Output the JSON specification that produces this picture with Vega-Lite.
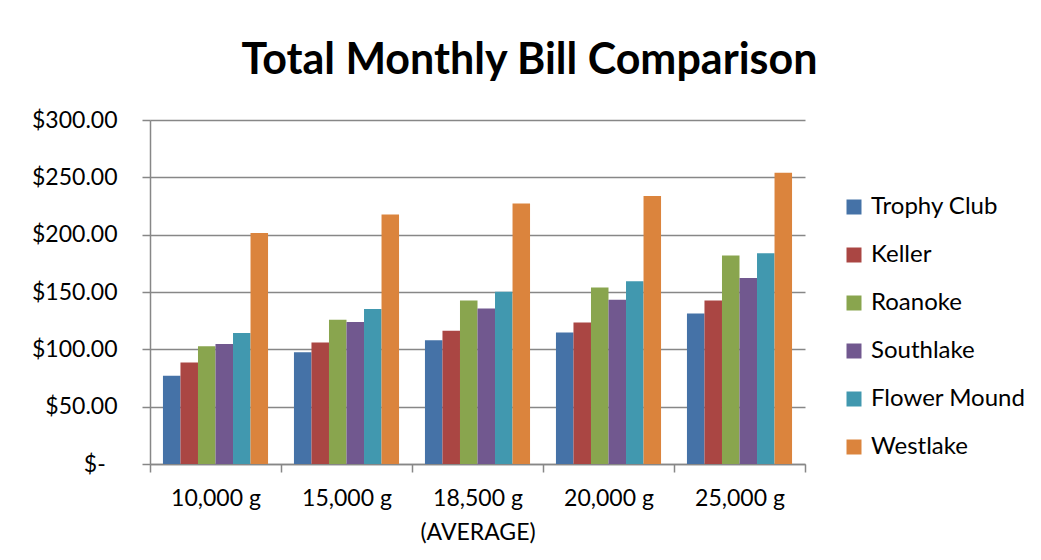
{
  "$schema": "https://vega.github.io/schema/vega-lite/v6.json",
  "width": 655,
  "height": 344,
  "autosize": {"type": "none"},
  "padding": {"left": 150, "top": 120, "right": 236, "bottom": 96},
  "background": "white",
  "title": {
    "text": "Total Monthly Bill Comparison",
    "font": "Lato",
    "fontSize": 43,
    "fontWeight": "bold",
    "color": "#000000",
    "anchor": "middle",
    "dx": 52,
    "offset": 26
  },
  "data": {
    "values": [
      {"volume": "10,000 g", "town": "Trophy Club", "bill": 77.0},
      {"volume": "10,000 g", "town": "Keller", "bill": 88.5},
      {"volume": "10,000 g", "town": "Roanoke", "bill": 102.7},
      {"volume": "10,000 g", "town": "Southlake", "bill": 104.7},
      {"volume": "10,000 g", "town": "Flower Mound", "bill": 114.2},
      {"volume": "10,000 g", "town": "Westlake", "bill": 201.4},
      {"volume": "15,000 g", "town": "Trophy Club", "bill": 97.5},
      {"volume": "15,000 g", "town": "Keller", "bill": 105.9},
      {"volume": "15,000 g", "town": "Roanoke", "bill": 125.9},
      {"volume": "15,000 g", "town": "Southlake", "bill": 123.8},
      {"volume": "15,000 g", "town": "Flower Mound", "bill": 135.1},
      {"volume": "15,000 g", "town": "Westlake", "bill": 217.5},
      {"volume": "18,500 g (AVERAGE)", "town": "Trophy Club", "bill": 107.9},
      {"volume": "18,500 g (AVERAGE)", "town": "Keller", "bill": 116.3},
      {"volume": "18,500 g (AVERAGE)", "town": "Roanoke", "bill": 142.6},
      {"volume": "18,500 g (AVERAGE)", "town": "Southlake", "bill": 135.7},
      {"volume": "18,500 g (AVERAGE)", "town": "Flower Mound", "bill": 150.2},
      {"volume": "18,500 g (AVERAGE)", "town": "Westlake", "bill": 227.1},
      {"volume": "20,000 g", "town": "Trophy Club", "bill": 114.6},
      {"volume": "20,000 g", "town": "Keller", "bill": 123.3},
      {"volume": "20,000 g", "town": "Roanoke", "bill": 153.9},
      {"volume": "20,000 g", "town": "Southlake", "bill": 143.2},
      {"volume": "20,000 g", "town": "Flower Mound", "bill": 159.4},
      {"volume": "20,000 g", "town": "Westlake", "bill": 233.8},
      {"volume": "25,000 g", "town": "Trophy Club", "bill": 131.3},
      {"volume": "25,000 g", "town": "Keller", "bill": 142.6},
      {"volume": "25,000 g", "town": "Roanoke", "bill": 181.9},
      {"volume": "25,000 g", "town": "Southlake", "bill": 162.3},
      {"volume": "25,000 g", "town": "Flower Mound", "bill": 183.7},
      {"volume": "25,000 g", "town": "Westlake", "bill": 254.0}
    ]
  },
  "mark": {"type": "bar"},
  "encoding": {
    "x": {
      "field": "volume",
      "type": "nominal",
      "sort": ["10,000 g", "15,000 g", "18,500 g (AVERAGE)", "20,000 g", "25,000 g"],
      "scale": {"paddingInner": 0, "paddingOuter": 0},
      "axis": {
        "title": null,
        "grid": false,
        "tickBand": "extent",
        "labelAngle": 0,
        "labelFont": "Lato",
        "labelFontSize": 23,
        "labelColor": "#000000",
        "labelPadding": 15,
        "labelLineHeight": 34,
        "labelExpr": "datum.label == '18,500 g (AVERAGE)' ? ['18,500 g', '(AVERAGE)'] : datum.label",
        "tickSize": 8,
        "tickColor": "#878787",
        "tickWidth": 1.5,
        "domainColor": "#878787",
        "domainWidth": 1.5
      }
    },
    "xOffset": {
      "field": "town",
      "type": "nominal",
      "sort": ["Trophy Club", "Keller", "Roanoke", "Southlake", "Flower Mound", "Westlake"],
      "scale": {"paddingInner": 0, "paddingOuter": 0.74}
    },
    "y": {
      "field": "bill",
      "type": "quantitative",
      "scale": {"domain": [0, 300]},
      "axis": {
        "title": null,
        "values": [0, 50, 100, 150, 200, 250, 300],
        "labelExpr": "datum.value == 0 ? '$-\u00a0\u00a0\u200b' : '$' + format(datum.value, '.2f')",
        "labelFont": "Lato",
        "labelFontSize": 23,
        "labelColor": "#000000",
        "labelPadding": 25,
        "tickSize": 8,
        "tickColor": "#878787",
        "tickWidth": 1.5,
        "grid": true,
        "gridColor": "#878787",
        "gridWidth": 1.5,
        "domainColor": "#878787",
        "domainWidth": 1.5
      }
    },
    "color": {
      "field": "town",
      "type": "nominal",
      "scale": {
        "domain": ["Trophy Club", "Keller", "Roanoke", "Southlake", "Flower Mound", "Westlake"],
        "range": ["#4572A7", "#AA4643", "#89A54E", "#71588F", "#4198AF", "#DB843D"]
      },
      "legend": {
        "title": null,
        "orient": "none",
        "legendX": 692,
        "legendY": 75,
        "padding": 0,
        "symbolType": "square",
        "symbolSize": 225,
        "symbolStrokeWidth": 0,
        "labelFont": "Lato",
        "labelFontSize": 24,
        "labelColor": "#000000",
        "labelOffset": 5,
        "rowPadding": 24
      }
    }
  },
  "config": {"view": {"stroke": null}}
}
